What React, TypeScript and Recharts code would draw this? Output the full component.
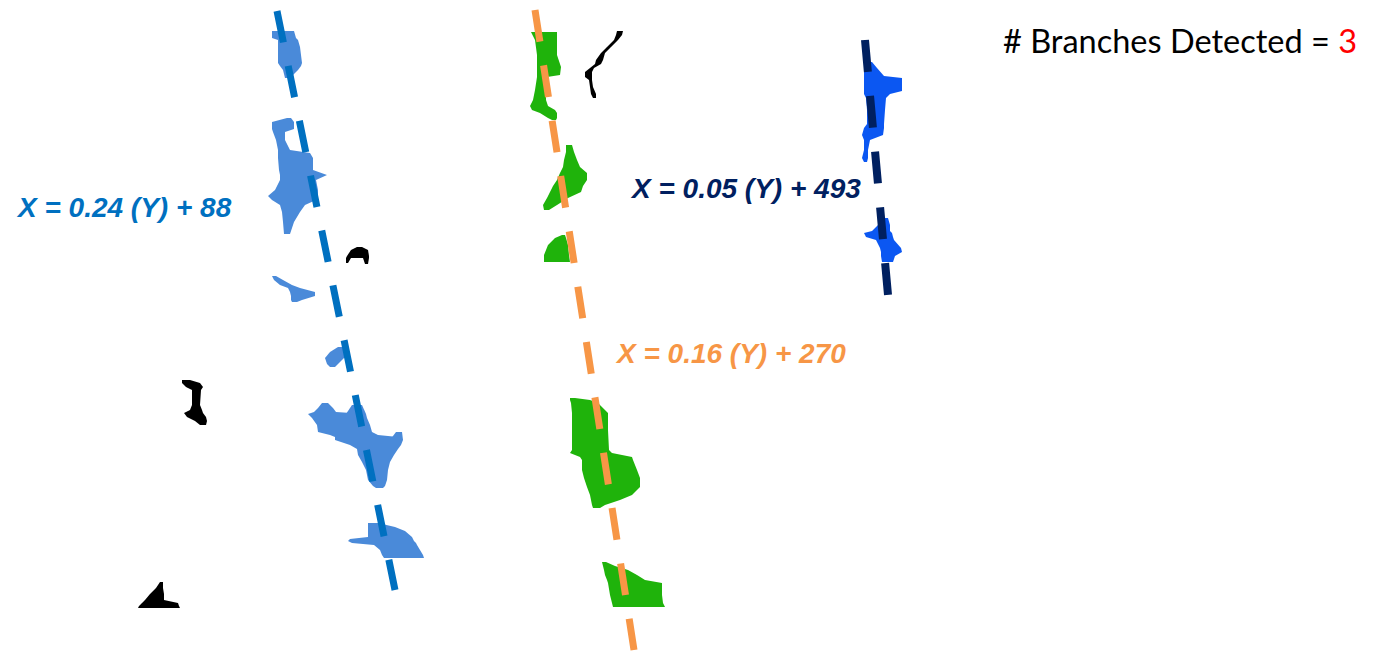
import React from 'react';
import { ComposedChart, Area, Line, XAxis, YAxis } from 'recharts';

type Row = { y: number; x: [number, number] };
const r = (y: number, l: number, rr: number): Row => ({ y, x: [l, rr] });

// ---- blobs (rows of [left, right] extents per y) ----
const blueBlobA: Row[] = [r(31, 272, 294), r(38, 272, 296), r(40, 278, 298), r(47, 278, 300), r(63, 278, 302), r(66, 280, 301), r(70, 283, 298), r(78, 285, 290)];
const blueBlobB: Row[] = [r(118, 287, 291), r(122, 272, 294), r(129, 272, 294), r(132, 273, 285), r(140, 276, 285), r(150, 278, 290), r(153, 278, 310), r(158, 278, 313), r(170, 279, 313), r(175, 280, 327), r(180, 280, 316), r(190, 275, 318), r(196, 268, 318), r(200, 272, 316), r(205, 280, 305), r(212, 282, 300), r(222, 283, 294), r(234, 284, 290)];
const blueBlobC: Row[] = [r(276, 272, 276), r(280, 274, 283), r(285, 280, 292), r(288, 288, 300), r(292, 290, 315), r(296, 291, 315), r(300, 291, 302), r(302, 292, 297)];
const blueBlobD: Row[] = [r(347, 338, 343), r(352, 330, 345), r(358, 325, 344), r(364, 327, 338), r(367, 330, 335)];
const blueBlobE: Row[] = [r(403, 322, 328), r(408, 318, 333), r(412, 314, 336), r(414, 308, 366), r(418, 312, 367), r(425, 317, 370), r(432, 318, 372), r(435, 330, 378), r(437, 335, 398), r(440, 335, 403), r(445, 350, 401), r(449, 357, 398), r(455, 358, 394), r(462, 362, 390), r(470, 366, 388), r(480, 368, 387), r(486, 373, 385), r(488, 376, 383)];
const blueBlobE2: Row[] = [r(405, 352, 362), r(414, 346, 366)];
const blueBlobE3: Row[] = [r(432, 396, 402), r(440, 390, 403)];
const blueBlobF: Row[] = [r(523, 368, 378), r(527, 368, 395), r(531, 368, 405), r(537, 368, 412), r(539, 350, 413), r(541, 348, 414), r(543, 352, 416), r(545, 374, 417), r(550, 380, 420), r(555, 382, 423), r(558, 384, 424)];

const greenBlobA: Row[] = [r(32, 531, 557), r(40, 535, 557), r(55, 537, 557), r(67, 537, 561), r(75, 537, 560), r(77, 537, 547), r(90, 535, 546), r(100, 533, 546), r(106, 530, 548), r(110, 532, 555), r(113, 540, 557), r(118, 548, 557), r(120, 552, 556)];
const greenBlobB: Row[] = [r(145, 566, 572), r(152, 566, 574), r(160, 564, 577), r(167, 563, 580), r(173, 560, 587), r(180, 557, 587), r(186, 553, 583), r(192, 550, 581), r(198, 547, 568), r(205, 543, 557), r(210, 544, 549)];
const greenBlobC: Row[] = [r(235, 562, 565), r(238, 555, 566), r(245, 548, 568), r(255, 544, 569), r(262, 544, 570)];
const greenBlobD: Row[] = [r(398, 570, 575), r(400, 570, 590), r(403, 571, 598), r(413, 572, 608), r(430, 572, 608), r(450, 572, 609), r(453, 570, 612), r(457, 580, 632), r(460, 582, 633), r(470, 582, 637), r(478, 584, 640), r(487, 587, 640), r(495, 590, 632), r(500, 591, 620), r(505, 592, 605), r(508, 593, 600)];
const greenBlobE: Row[] = [r(562, 602, 606), r(566, 603, 615), r(570, 604, 628), r(575, 605, 637), r(580, 607, 645), r(583, 608, 662), r(595, 610, 662), r(603, 612, 663), r(607, 613, 665)];

const navyBlobA: Row[] = [r(62, 864, 872), r(68, 864, 877), r(76, 864, 884), r(78, 864, 902), r(91, 864, 902), r(94, 864, 890), r(98, 866, 886), r(110, 867, 885), r(124, 867, 884), r(128, 864, 884), r(135, 862, 883), r(140, 864, 870), r(150, 864, 868), r(158, 862, 868), r(162, 864, 867)];
const navyBlobB: Row[] = [r(218, 879, 888), r(225, 878, 890), r(231, 872, 890), r(233, 864, 892), r(237, 866, 893), r(240, 876, 894), r(248, 880, 901), r(252, 881, 902), r(256, 881, 895), r(262, 882, 893)];

const blackBlobHat: Row[] = [r(247, 357, 362), r(250, 351, 368), r(256, 347, 369), r(258, 346, 369)];
const blackBlobHatL: Row[] = [r(258, 346, 351), r(263, 346, 348)];
const blackBlobHatR: Row[] = [r(258, 363, 369), r(264, 365, 368)];
const blackBlobI: Row[] = [r(380, 182, 190), r(383, 182, 200), r(387, 186, 203), r(390, 192, 201), r(405, 192, 200), r(410, 190, 202), r(413, 184, 203), r(417, 187, 206), r(421, 195, 207), r(425, 200, 206)];
const blackBlobFin: Row[] = [r(582, 160, 163), r(588, 156, 163), r(594, 150, 164), r(600, 145, 164), r(603, 142, 178), r(606, 139, 179), r(608, 138, 180)];
const blackSquiggle: Row[] = [r(31, 617, 623), r(35, 616, 622), r(40, 614, 618), r(47, 607, 611), r(53, 601, 605), r(60, 596, 603), r(64, 595, 601), r(68, 590, 594), r(72, 585, 592), r(77, 585, 592), r(80, 589, 592), r(87, 590, 593), r(94, 591, 596), r(98, 593, 596)];

// ---- fitted branch lines ----
const blueLine = [{ y: 11, x: 277 }, { y: 590, x: 395 }];
const orangeLine = [{ y: 10, x: 535 }, { y: 650, x: 634 }];
const navyLine = [{ y: 40, x: 865 }, { y: 295, x: 888 }];

const equations = ['X = 0.24 (Y) + 88', 'X = 0.16 (Y) + 270', 'X = 0.05 (Y) + 493'];
const titleText = '# Branches Detected = ';
const branchCount = '3';

const LIGHT_BLUE = '#4a8ad9';
const GREEN = '#1fb30b';
const BRIGHT_BLUE = '#0b57f2';
const BLACK = '#000000';

const blobGroups: { data: Row[]; color: string }[] = [
  ...[blueBlobA, blueBlobB, blueBlobC, blueBlobD, blueBlobE, blueBlobE2, blueBlobE3, blueBlobF].map((d) => ({ data: d, color: LIGHT_BLUE })),
  ...[greenBlobA, greenBlobB, greenBlobC, greenBlobD, greenBlobE].map((d) => ({ data: d, color: GREEN })),
  ...[navyBlobA, navyBlobB].map((d) => ({ data: d, color: BRIGHT_BLUE })),
  ...[blackBlobHat, blackBlobHatL, blackBlobHatR, blackBlobI, blackBlobFin, blackSquiggle].map((d) => ({ data: d, color: BLACK })),
];

const W = 1375;
const H = 652;

export default function App() {
  return (
    <div style={{ position: 'absolute', left: 0, top: 0, width: W, height: H, background: '#fff' }}>
      <ComposedChart layout="vertical" width={W} height={H} margin={{ top: 0, right: 0, bottom: 0, left: 0 }}>
        <XAxis type="number" dataKey="x" domain={[0, W]} allowDataOverflow hide />
        <YAxis type="number" dataKey="y" domain={[0, H]} allowDataOverflow hide />
        {blobGroups.map((b, i) => (
          <Area
            key={'blob' + i}
            data={b.data}
            dataKey="x"
            type="linear"
            stroke="none"
            fill={b.color}
            fillOpacity={1}
            isAnimationActive={false}
            dot={false}
            activeDot={false}
          />
        ))}
        <Line data={blueLine} dataKey="x" type="linear" stroke="#0070c0" strokeWidth={7} strokeDasharray="32 24" dot={false} activeDot={false} isAnimationActive={false} />
        <Line data={orangeLine} dataKey="x" type="linear" stroke="#f79646" strokeWidth={7} strokeDasharray="32 24" dot={false} activeDot={false} isAnimationActive={false} />
        <Line data={navyLine} dataKey="x" type="linear" stroke="#002060" strokeWidth={8} strokeDasharray="32 24" dot={false} activeDot={false} isAnimationActive={false} />
      </ComposedChart>
      <svg width={W} height={H} style={{ position: 'absolute', left: 0, top: 0, pointerEvents: 'none' }}>
        <g fontFamily="'Liberation Sans', Arial, sans-serif" fontWeight="bold" fontStyle="italic" fontSize={28}>
          <text x={18} y={217} fill="#0070c0">{equations[0]}</text>
          <text x={617} y={363} fill="#f79646">{equations[1]}</text>
          <text x={632} y={198} fill="#002060">{equations[2]}</text>
        </g>
        <text x={1003} y={53} fontFamily="Lato, 'Open Sans', sans-serif" fontSize={32} fill="#000" textLength={354} lengthAdjust="spacingAndGlyphs">
          {titleText}
          <tspan fill="#ff0000">{branchCount}</tspan>
        </text>
      </svg>
    </div>
  );
}
